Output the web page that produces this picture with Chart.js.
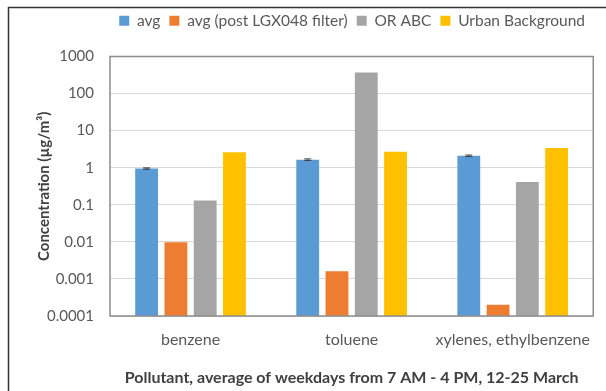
<!DOCTYPE html>
<html><head><meta charset="utf-8">
<script src="https://cdn.jsdelivr.net/npm/chart.js@4/dist/chart.umd.min.js"></script>
<style>html,body{margin:0;padding:0;background:#fff}#wrap{width:606px;height:391px}</style>
</head><body><div id="wrap"><canvas id="c" width="606" height="391"></canvas></div>
<script>
const categories = ['benzene', 'toluene', 'xylenes, ethylbenzene'];
const seriesNames = ['avg', 'avg (post LGX048 filter)', 'OR ABC', 'Urban Background'];
const avgValues = [0.95, 1.65, 2.1];
const avgErrors = [0.04, 0.08, 0.1];
const postFilterValues = [0.0098, 0.0016, 0.0002];
const orAbcValues = [0.13, 370, 0.41];
const urbanValues = [2.6, 2.7, 3.4];
const yTickValues = [0.0001, 0.001, 0.01, 0.1, 1, 10, 100, 1000];
const yTickLabels = ['0.0001', '0.001', '0.01', '0.1', '1', '10', '100', '1000'];
const colors = ['#5b9bd5', '#ed7d31', '#a5a5a5', '#ffc000'];
const FONT = 'Lato, "Open Sans", sans-serif';
const TXT = '#595959';

const legendSpace = {
  id: 'legendSpace',
  beforeLayout(chart) {
    const lg = chart.legend;
    if (lg && !lg._patched) {
      const orig = lg.fit;
      lg.fit = function () { orig.call(this); this.height += 18; };
      lg._patched = true;
    }
  }
};

const frame = {
  id: 'frame',
  afterDraw(chart) {
    const ctx = chart.ctx, a = chart.chartArea;
    ctx.save();
    const meta = chart.getDatasetMeta(0), y = chart.scales.y;
    ctx.strokeStyle = '#404040'; ctx.lineWidth = 1;
    meta.data.forEach((bar, i) => {
      const v = avgValues[i], e = avgErrors[i];
      const y1 = y.getPixelForValue(v + e), y2 = y.getPixelForValue(v - e);
      ctx.beginPath();
      ctx.moveTo(bar.x, y1); ctx.lineTo(bar.x, y2);
      ctx.moveTo(bar.x - 3.5, y1); ctx.lineTo(bar.x + 3.5, y1);
      ctx.moveTo(bar.x - 3.5, y2); ctx.lineTo(bar.x + 3.5, y2);
      ctx.stroke();
    });
    ctx.strokeStyle = '#8c8c8c'; ctx.lineWidth = 1.5;
    ctx.strokeRect(a.left, a.top, a.right - a.left, a.bottom - a.top);
    ctx.strokeStyle = '#333'; ctx.lineWidth = 1.5;
    ctx.beginPath();
    ctx.moveTo(8.5, 391); ctx.lineTo(8.5, 7.5); ctx.lineTo(606, 7.5);
    ctx.stroke();
    ctx.restore();
  }
};

new Chart(document.getElementById('c'), {
  type: 'bar',
  data: {
    labels: categories,
    datasets: [avgValues, postFilterValues, orAbcValues, urbanValues].map((d, i) => ({
      label: seriesNames[i], data: d, backgroundColor: colors[i], borderWidth: 0,
      categoryPercentage: 0.727, barPercentage: 0.78
    }))
  },
  options: {
    responsive: false, animation: false,
    layout: { padding: { left: 35, right: 12, top: 4, bottom: 4 } },
    plugins: {
      legend: {
        position: 'top', align: 'end',
        labels: { boxWidth: 10, boxHeight: 10, padding: 9, color: TXT, font: { family: FONT, size: 15.5 } }
      },
      tooltip: { enabled: false }
    },
    scales: {
      x: {
        grid: { display: false, drawTicks: false },
        border: { display: false },
        ticks: { color: TXT, font: { family: FONT, size: 16 }, padding: 14, maxRotation: 0 },
        title: { display: true, text: 'Pollutant, average of weekdays from 7 AM - 4 PM, 12-25 March', color: '#404040', font: { family: FONT, size: 16, weight: 'bold' }, padding: { top: 14, bottom: 0 } },
        afterFit(s) { s.height = 71; }
      },
      y: {
        type: 'logarithmic', min: 0.0001, max: 1000,
        afterBuildTicks(s) { s.ticks = yTickValues.map(v => ({ value: v })); },
        grid: { color: '#d9d9d9', drawTicks: false },
        border: { display: false },
        ticks: { color: TXT, font: { family: FONT, size: 15 }, padding: 16,
          callback: (v) => { const i = yTickValues.findIndex(t => Math.abs(Math.log10(t) - Math.log10(v)) < 1e-6); return i >= 0 ? yTickLabels[i] : ''; } },
        title: { display: true, text: 'Concentration (µg/m³)', color: '#404040', font: { family: FONT, size: 15, weight: 'bold' }, padding: { top: 0, bottom: 4 } },
        afterFit(s) { s.width = 75; }
      }
    }
  },
  plugins: [legendSpace, frame]
});
</script>
</body></html>
